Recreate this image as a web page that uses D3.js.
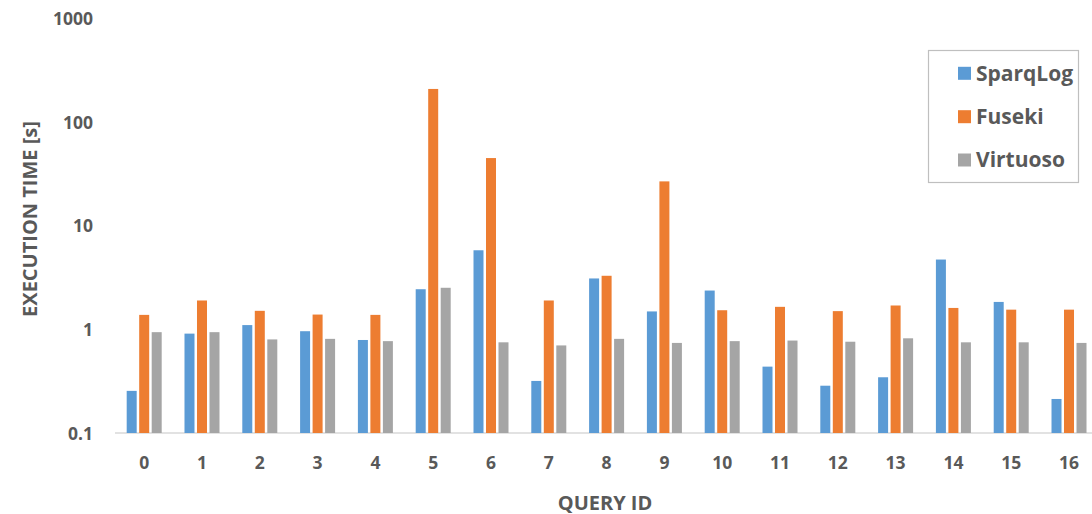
<!DOCTYPE html>
<html>
<head>
<meta charset="utf-8">
<script src="https://cdn.jsdelivr.net/npm/d3@7/dist/d3.min.js"></script>
<style>
  html, body { margin: 0; padding: 0; background: #ffffff; }
  svg { display: block; }
  text { font-family: "Open Sans", "Liberation Sans", sans-serif; font-weight: bold; fill: #595959; }
</style>
</head>
<body>
<svg id="chart" width="1092" height="514"></svg>
<script>
const categories = ["0","1","2","3","4","5","6","7","8","9","10","11","12","13","14","15","16"];
const seriesNames = ["SparqLog", "Fuseki", "Virtuoso"];
const sparqlog = [0.255, 0.91, 1.10, 0.96, 0.79, 2.44, 5.8, 0.318, 3.10, 1.49, 2.37, 0.437, 0.286, 0.345, 4.72, 1.84, 0.213];
const fuseki   = [1.38, 1.90, 1.51, 1.39, 1.38, 209, 45, 1.90, 3.29, 26.8, 1.53, 1.65, 1.50, 1.70, 1.61, 1.55, 1.55];
const virtuoso = [0.94, 0.94, 0.80, 0.81, 0.77, 2.52, 0.75, 0.70, 0.81, 0.74, 0.77, 0.78, 0.76, 0.82, 0.75, 0.75, 0.74];
const yTicks = [0.1, 1, 10, 100, 1000];
const yTickLabels = ["0.1", "1", "10", "100", "1000"];
const colors = ["#5B9BD5", "#ED7D31", "#A5A5A5"];

const seriesValues = [sparqlog, fuseki, virtuoso];
const svg = d3.select("#chart");

const y = d3.scaleLog().domain([0.1, 1000]).range([433, 18.5]);
const x0 = d3.scaleBand().domain(categories).range([116, 1097.2]).paddingInner(0.3945).paddingOuter(0.185);
const x1 = d3.scaleBand().domain(seriesNames).range([0, x0.bandwidth()]).paddingInner(0.2);

// baseline
svg.append("line")
  .attr("x1", 115).attr("x2", 1092)
  .attr("y1", y(0.1)).attr("y2", y(0.1))
  .attr("stroke", "#d9d9d9").attr("stroke-width", 1.5);

// bars
const groups = svg.append("g").selectAll("g")
  .data(categories)
  .join("g")
  .attr("transform", d => `translate(${x0(d)},0)`);

groups.selectAll("rect")
  .data((d, i) => seriesNames.map((s, k) => ({ s, k, v: seriesValues[k][i] })))
  .join("rect")
  .attr("x", d => x1(d.s))
  .attr("width", x1.bandwidth())
  .attr("y", d => y(d.v))
  .attr("height", d => y(0.1) - y(d.v))
  .attr("fill", d => colors[d.k]);

// y axis labels
const yAxis = d3.axisLeft(y).tickValues(yTicks).tickFormat((d, i) => yTickLabels[i]).tickSize(0).tickPadding(0);
const yg = svg.append("g").attr("transform", "translate(93,0)").call(yAxis);
yg.select(".domain").remove();
yg.selectAll("text").style("font-size", "17.5px").style("font-family", "'Open Sans', sans-serif").style("font-weight", "bold").attr("fill", "#595959").attr("dy", "0.35em");

// x axis labels
const xAxis = d3.axisBottom(x0).tickSize(0).tickPadding(0);
const xg = svg.append("g").attr("transform", "translate(0,463)").call(xAxis);
xg.select(".domain").remove();
xg.selectAll("text").style("font-size", "17.5px").style("font-family", "'Open Sans', sans-serif").style("font-weight", "bold").attr("fill", "#595959").attr("dy", "0.35em").attr("y", 0);

// axis titles
svg.append("text")
  .attr("x", 605).attr("y", 502.5).attr("dy", "0.35em")
  .attr("text-anchor", "middle")
  .style("font-size", "20px")
  .text("QUERY ID");

svg.append("text")
  .attr("transform", "translate(30,219) rotate(-90)")
  .attr("dy", "0.35em")
  .attr("text-anchor", "middle")
  .style("font-size", "20px")
  .text("EXECUTION TIME [s]");

// legend
const legend = svg.append("g");
legend.append("rect")
  .attr("x", 928.5).attr("y", 50.5).attr("width", 150).attr("height", 132)
  .attr("fill", "#ffffff").attr("stroke", "#bfbfbf").attr("stroke-width", 1.2);
const legendY = [73.3, 116.7, 160];
seriesNames.forEach((s, k) => {
  legend.append("rect")
    .attr("x", 958).attr("y", legendY[k] - 6.5).attr("width", 13).attr("height", 13)
    .attr("fill", colors[k]);
  legend.append("text")
    .attr("x", 976).attr("y", legendY[k]).attr("dy", "0.35em")
    .style("font-size", "21px")
    .text(s);
});
</script>
</body>
</html>
